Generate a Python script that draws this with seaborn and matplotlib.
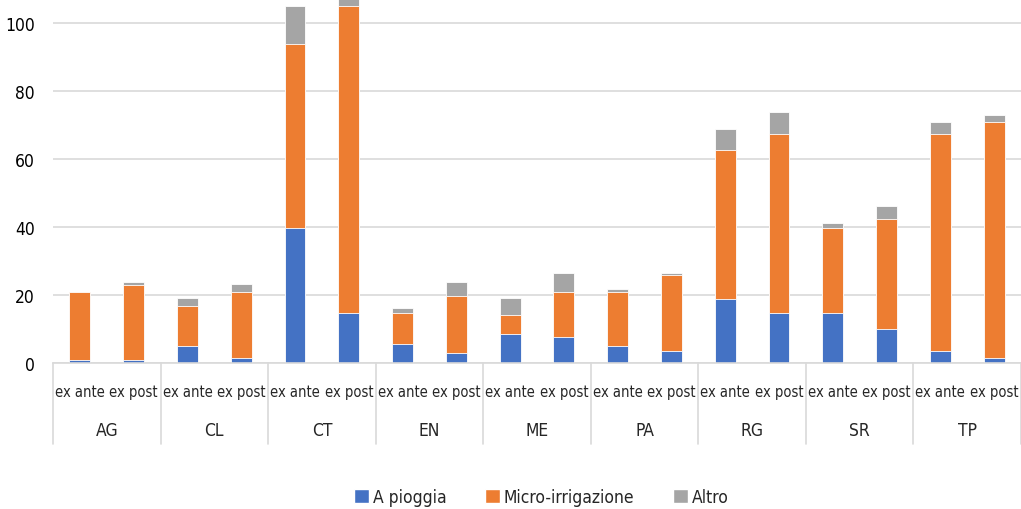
import pandas as pd
import matplotlib.pyplot as plt
import matplotlib.transforms as mtransforms
import matplotlib.font_manager as fm
from matplotlib.patches import Patch
import seaborn as sns

# Data
provinces = ["AG", "CL", "CT", "EN", "ME", "PA", "RG", "SR", "TP"]
periods = ["ex ante", "ex post"]
a_pioggia = [0.9, 0.9, 5.0, 1.5, 39.7, 14.8, 5.6, 3.0, 8.5, 7.7,
             5.0, 3.6, 18.9, 14.8, 14.8, 9.9, 3.6, 1.5]
micro_irrigazione = [20.1, 22.2, 11.9, 19.5, 54.3, 90.2, 9.2, 16.6, 5.5, 13.3,
                     16.0, 22.2, 43.7, 52.7, 24.9, 32.6, 63.9, 69.5]
altro = [0.0, 0.7, 2.1, 2.2, 11.1, 4.0, 1.4, 4.2, 5.0, 5.6,
         0.7, 0.8, 6.4, 6.3, 1.5, 3.6, 3.5, 2.1]

legend_labels = ["A pioggia", "Micro-irrigazione", "Altro"]
colors = ["#4472C4", "#ED7D31", "#A5A5A5"]

keys = [f"{p} {t}" for p in provinces for t in periods]
df = pd.DataFrame({"key": keys, "blue": a_pioggia,
                   "orange": micro_irrigazione, "gray": altro})
df["lvl1"] = df["blue"]
df["lvl2"] = df["blue"] + df["orange"]
df["lvl3"] = df["lvl2"] + df["gray"]

sns.set_style("white")
# narrow font if available, otherwise Roboto
cond = fm.findfont(fm.FontProperties(family="DejaVu Sans", stretch="condensed"))
if "Condensed" in cond:
    plt.rcParams["font.family"] = ["DejaVu Sans"]
    plt.rcParams["font.stretch"] = "condensed"
else:
    plt.rcParams["font.family"] = ["Roboto", "DejaVu Sans"]
fs_small, fs = 10.5, 12.5

fig = plt.figure(figsize=(10.21, 5.10), dpi=100)
ax = fig.add_axes([53 / 1021, 146 / 510, 1 - 53 / 1021, 364 / 510])

# stacked by overlaying cumulative totals
for col, c in zip(["lvl3", "lvl2", "lvl1"], colors[::-1]):
    sns.barplot(data=df, x="key", y=col, order=keys, color=c, width=0.39,
                saturation=1, edgecolor="white", linewidth=0.6, ax=ax)

ax.set_ylim(0, 107.2)
ax.set_xlim(-0.5, len(keys) - 0.5)
ax.set_yticks([0, 20, 40, 60, 80, 100])
ax.yaxis.grid(True, color="#d9d9d9", linewidth=1.2)
ax.set_axisbelow(True)
for s in ["top", "right", "left"]:
    ax.spines[s].set_visible(False)
ax.spines["bottom"].set_color("#d9d9d9")
ax.spines["bottom"].set_linewidth(1.2)
ax.set_xlabel("")
ax.set_ylabel("")
ax.tick_params(axis="y", length=0, labelsize=fs, pad=13, colors="#000000")
ax.set_xticks(range(len(keys)))
ax.set_xticklabels([t for p in provinces for t in periods], fontsize=fs_small)
ax.tick_params(axis="x", length=0, pad=15)

# group separators and province labels
trans = mtransforms.blended_transform_factory(ax.transData, ax.transAxes)
for i in range(len(provinces) + 1):
    ax.plot([2 * i - 0.5, 2 * i - 0.5], [0, -81 / 364], transform=trans,
            color="#d9d9d9", linewidth=1.2, clip_on=False)
for i, p in enumerate(provinces):
    ax.text(2 * i + 0.5, -67 / 364, p, transform=trans, ha="center",
            va="center", fontsize=fs)

handles = [Patch(facecolor=c, label=l) for c, l in zip(colors, legend_labels)]
fig.legend(handles=handles, loc="center", bbox_to_anchor=(0.53, 12 / 510),
           ncol=3, frameon=False, fontsize=fs, handlelength=0.9,
           handleheight=0.9, handletextpad=0.2, columnspacing=2.2)

fig.savefig("out.png", dpi=100)
